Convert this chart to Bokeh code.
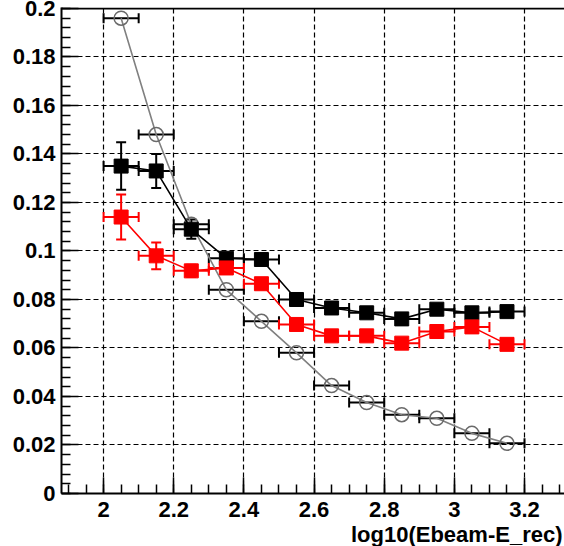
import numpy as np
from bokeh.plotting import figure
from bokeh.models import (ColumnDataSource, Whisker, TeeHead, SingleIntervalTicker,
                          CustomJSTickFormatter, Span, Range1d, Title)
from bokeh.embed import file_html
from bokeh.resources import INLINE

# ---------------- data ----------------
bin_centers = [2.05, 2.15, 2.25, 2.35, 2.45, 2.55, 2.65, 2.75, 2.85, 2.95, 3.05, 3.15]
bin_half_widths = [0.05, 0.05, 0.05, 0.05, 0.05, 0.05, 0.05, 0.05, 0.05, 0.05, 0.05, 0.05]

open_y = [0.196, 0.148, 0.111, 0.084, 0.071, 0.058, 0.0445, 0.0375, 0.0325, 0.031, 0.0248, 0.0207]

black_y = [0.135, 0.133, 0.109, 0.097, 0.0965, 0.080, 0.0765, 0.0745, 0.072, 0.076, 0.0745, 0.075]
black_yerr = [0.0098, 0.007, 0.004, 0.002, 0.002, 0.0015, 0.0015, 0.0015, 0.0015, 0.0015, 0.0015, 0.0015]

red_y = [0.114, 0.098, 0.0918, 0.093, 0.0865, 0.0697, 0.065, 0.065, 0.062, 0.0668, 0.0687, 0.0615]
red_yerr = [0.0093, 0.0055, 0.0025, 0.002, 0.002, 0.0015, 0.0015, 0.0015, 0.0015, 0.0015, 0.0015, 0.0015]

x_title = "log10(Ebeam-E_rec)"

FONT = "Liberation Sans"
W, H = 564, 546

p = figure(width=W, height=H,
           x_range=Range1d(1.88, 3.314), y_range=Range1d(0, 0.2004),
           output_backend="svg", toolbar_location=None,
           min_border_left=61, min_border_right=0, min_border_top=7, min_border_bottom=53)
p.outline_line_color = None
p.background_fill_color = "white"
p.border_fill_color = "white"

xt = SingleIntervalTicker(interval=0.2, num_minor_ticks=4)
yt = SingleIntervalTicker(interval=0.02, num_minor_ticks=5)
p.xaxis.ticker = xt
p.yaxis.ticker = yt
p.xgrid.ticker = xt
p.ygrid.ticker = yt
fmt = CustomJSTickFormatter(code="return String(Number(tick.toFixed(3)));")
p.xaxis.formatter = fmt
p.yaxis.formatter = fmt

for g in (p.xgrid[0], p.ygrid[0]):
    g.grid_line_color = "black"
    g.grid_line_dash = "5 3"
    g.grid_line_width = 1.2

for ax in (p.xaxis[0], p.yaxis[0]):
    ax.axis_line_color = "black"
    ax.axis_line_width = 2
    ax.major_tick_line_color = "black"
    ax.minor_tick_line_color = "black"
    ax.major_tick_line_width = 1.5
    ax.minor_tick_line_width = 1.5
    ax.major_tick_out = 0
    ax.minor_tick_out = 0
    ax.minor_tick_in = 9
    ax.major_label_text_font = FONT
    ax.major_label_text_font_style = "bold"
    ax.major_label_text_font_size = "22px"
    ax.major_label_text_color = "black"
p.xaxis[0].major_tick_in = 16
p.yaxis[0].major_tick_in = 17
p.xaxis[0].major_label_standoff = 8
p.yaxis[0].major_label_standoff = 6

# frame top line
p.add_layout(Span(location=0.2, dimension="width", line_color="black", line_width=2))

# x axis title, right-aligned at the end of the axis
p.add_layout(Title(text=x_title, align="right", text_font=FONT, text_font_style="bold",
                   text_font_size="22px", standoff=0, offset=2, text_color="black"), "below")


def series(yvals, yerr, color, marker_color, line_color, marker, filled):
    x = np.array(bin_centers)
    hw = np.array(bin_half_widths)
    y = np.array(yvals)
    data = dict(x=x, y=y, xlo=x - hw, xhi=x + hw)
    if yerr is not None:
        e = np.array(yerr)
        data.update(ylo=y - e, yhi=y + e)
    src = ColumnDataSource(data)
    p.line("x", "y", source=src, line_color=line_color, line_width=1.6)
    p.add_layout(Whisker(source=src, base="y", lower="xlo", upper="xhi", dimension="width",
                         line_color=color, line_width=2,
                         upper_head=TeeHead(size=10, line_color=color, line_width=2),
                         lower_head=TeeHead(size=10, line_color=color, line_width=2)))
    if yerr is not None:
        p.add_layout(Whisker(source=src, base="x", lower="ylo", upper="yhi", dimension="height",
                             line_color=color, line_width=2,
                             upper_head=TeeHead(size=10, line_color=color, line_width=2),
                             lower_head=TeeHead(size=10, line_color=color, line_width=2)))
    if filled:
        p.scatter("x", "y", source=src, marker=marker, size=14,
                  fill_color=marker_color, line_color=marker_color)
    else:
        p.scatter("x", "y", source=src, marker=marker, size=14,
                  fill_color=None, line_color=marker_color, line_width=1.5)


series(open_y, None, "black", "#6a6a6a", "#808080", "circle", False)
series(black_y, black_yerr, "black", "black", "black", "square", True)
series(red_y, red_yerr, "red", "red", "red", "square", True)

open("out.html", "w").write(file_html(p, INLINE))
